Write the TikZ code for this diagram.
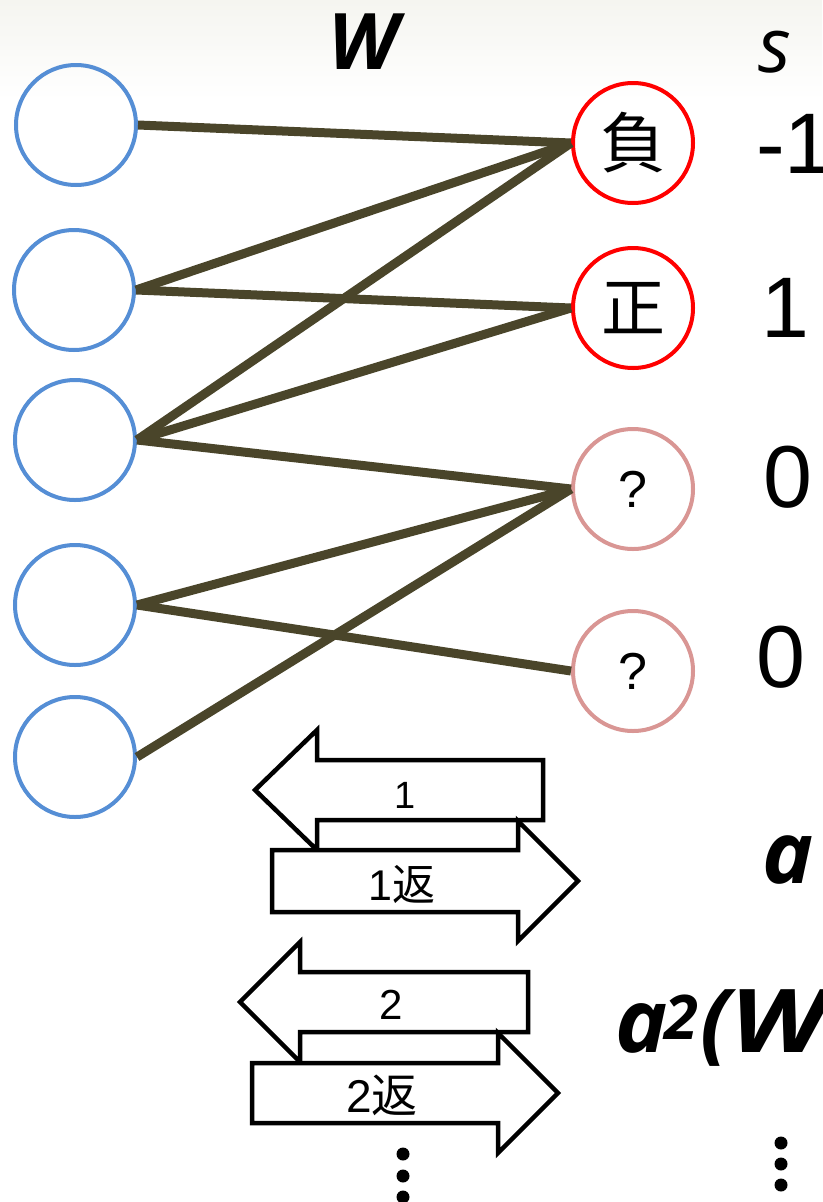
\documentclass[tikz,border=0pt]{standalone}
\usepackage{fontspec}
\setmainfont{Liberation Sans}
\newfontfamily\cjk{Noto Sans CJK JP}
\newfontfamily\symfont{Open Sans}
\definecolor{inblue}{RGB}{85,142,213}
\definecolor{outred}{RGB}{255,0,0}
\definecolor{outpink}{RGB}{217,150,148}
\definecolor{wire}{RGB}{74,69,42}
\definecolor{haze}{RGB}{245,245,240}
\newcommand{\fsz}[1]{\fontsize{#1}{#1}\selectfont}
\begin{document}
\begin{tikzpicture}[x=1pt,y=-1pt,
  innode/.style={circle,draw=inblue,line width=4pt,minimum size=120pt,inner sep=0pt},
  outnode/.style={circle,draw=#1,line width=4pt,minimum size=120pt,inner sep=0pt},
  wireline/.style={draw=wire,line width=9pt},
  blockarrow/.style={draw=black,fill=white,line width=4.5pt,line join=miter},
  arrowtext/.style={inner sep=0pt},
  sym/.style={font=\symfont\fsz{78}\bfseries\itshape,inner sep=0pt,anchor=base west},
  value/.style={font=\fsz{86},inner sep=0pt,anchor=base west},
  dot/.style={fill=black,draw=none}]
\useasboundingbox (0,0) rectangle (822,1202);
\clip (0,0) rectangle (822,1202);
\shade[top color=haze,bottom color=white] (0,0) rectangle (822,100);

% input layer
\node[innode] (l1) at (76,125) {};
\node[innode] (l2) at (74,290) {};
\node[innode] (l3) at (75,440) {};
\node[innode] (l4) at (75,605) {};
\node[innode] (l5) at (75,757) {};

% output layer
\node[outnode=outred,font=\cjk\fsz{66}] (neg) at (633,143) {負};
\node[outnode=outred,font=\cjk\fsz{64}] (pos) at (633,308) {正};
\node[outnode=outpink,font=\fsz{52}] (q1) at (633,489) {?};
\node[outnode=outpink,font=\fsz{52}] (q2) at (633,671) {?};

% weights
\draw[wireline] (l1.east) -- (neg.west);
\draw[wireline] (l2.east) -- (neg.west);
\draw[wireline] (l2.east) -- (pos.west);
\draw[wireline] (l3.east) -- (neg.west);
\draw[wireline] (l3.east) -- (pos.west);
\draw[wireline] (l3.east) -- (q1.west);
\draw[wireline] (l4.east) -- (q1.west);
\draw[wireline] (l4.east) -- (q2.west);
\draw[wireline] (l5.east) -- (q1.west);

% labels
\node[sym] (wlabel) at (328,69) {W};
\node[sym,font=\symfont\fsz{76}\itshape] (slabel) at (758,72) {s};
\node[value] (v1) at (756,173) {-1};
\node[value] (v2) at (761,337) {1};
\node[value,font=\fsz{88}] (v3) at (763,507) {0};
\node[value,font=\fsz{88}] (v4) at (756,687) {0};
\node[sym,font=\symfont\fsz{86}\bfseries\itshape] (alabel) at (762,883) {a};
\node[sym,font=\symfont\fsz{88}\bfseries\itshape] (a2label) at (615,1052)
  {a\kern-3pt\raisebox{3pt}{\textsuperscript{2}}\kern2pt(\scalebox{1.22}[1]{W}\textsuperscript{T}};

% first round trip
\draw[blockarrow] (543,760) -- (317,760) -- (317,730) -- (255,790) -- (317,850) -- (317,820) -- (543,820) -- cycle;
\draw[blockarrow] (272,850) -- (518,850) -- (518,821) -- (578,881) -- (518,941) -- (518,912) -- (272,912) -- cycle;
\node[arrowtext,font=\fsz{38}] (t1) at (405,795) {1};
\node[arrowtext,font=\fsz{43}] (t1r) at (402,884) {1{\cjk 返}};

% second round trip
\draw[blockarrow] (528,972) -- (300,972) -- (300,942) -- (240,1002) -- (300,1062) -- (300,1032) -- (528,1032) -- cycle;
\draw[blockarrow] (252,1063) -- (498,1063) -- (498,1033) -- (558,1093) -- (498,1153) -- (498,1123) -- (252,1123) -- cycle;
\node[arrowtext,font=\fsz{42}] (t2) at (391,1005) {2};
\node[arrowtext,font=\fsz{46}] (t2r) at (382,1095) {2{\cjk 返}};

% continuation dots
\foreach \y in {1154,1176,1197} \fill[dot] (403,\y) circle (6.5);
\foreach \y in {1143,1164,1185} \fill[dot] (781,\y) circle (6.5);
\end{tikzpicture}
\end{document}
